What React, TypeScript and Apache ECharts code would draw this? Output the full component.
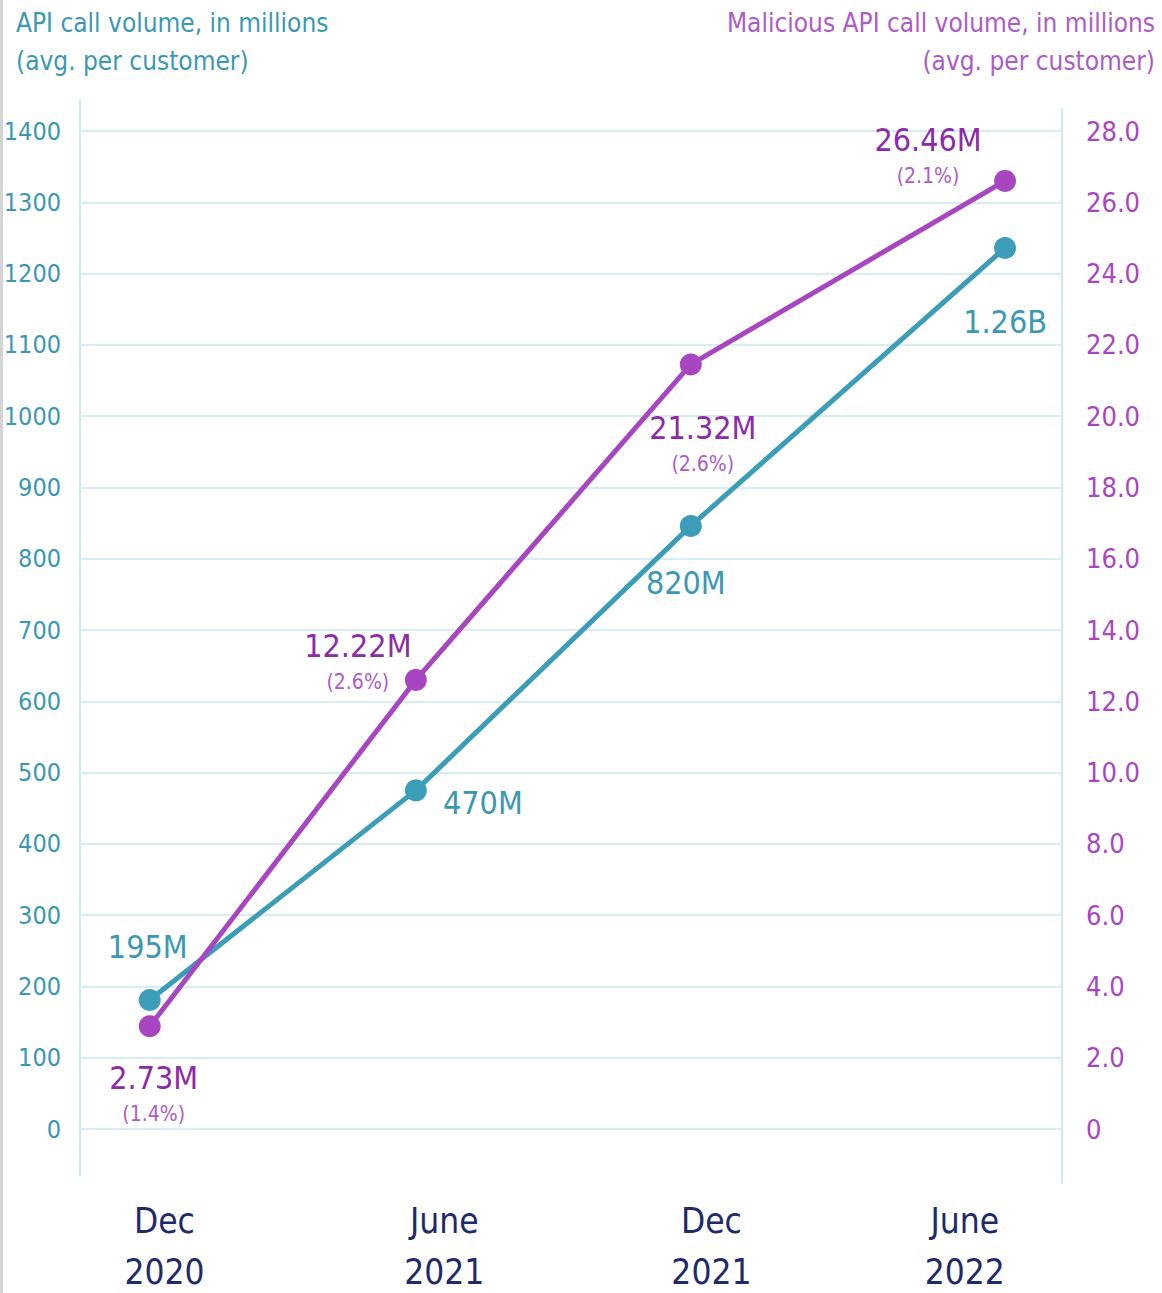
import React, { useEffect, useRef } from "react";
import * as echarts from "echarts";

const FONT = "'DejaVu Sans Condensed', 'Liberation Sans Narrow', 'Roboto', sans-serif";

// Timeline positions of the four snapshots (x-axis value space 0..100)
const pointX = [7.1, 34.2, 62.2, 94.2];
const categoryX = [8.6, 37.1, 64.3, 90.1];
const categories = ["Dec\n2020", "June\n2021", "Dec\n2021", "June\n2022"];

// API call volume, millions (avg per customer)
const apiVolume = [181, 475, 846, 1236];
const apiLabels = ["195M", "470M", "820M", "1.26B"];

// Malicious API call volume, millions (avg per customer)
const maliciousVolume = [2.88, 12.6, 21.45, 26.6];
const maliciousLabels = ["2.73M", "12.22M", "21.32M", "26.46M"];
const maliciousShare = ["(1.4%)", "(2.6%)", "(2.6%)", "(2.1%)"];

const leftTicks = { min: 0, max: 1400, interval: 100 };
const rightTicks = { min: 0, max: 28, interval: 2 };

const BLUE = "#3b9db8";
const BLUE_TEXT = "#3a98b4";
const PURPLE = "#a846c2";
const PURPLE_DARK = "#8c2aa8";
const PURPLE_LIGHT = "#ad5bc7";
const NAVY = "#1e2a6a";
const GRID = "#d6eef3";

const apiOffsets = [[-2, -53], [67, 13], [-5, 57], [0, 74]];
const malOffsets = [[4, 70], [-58, -16], [12, 82], [-77, -23]];

export default function App() {
  const ref = useRef<HTMLDivElement>(null);
  useEffect(() => {
    if (!ref.current) return;
    const chart = echarts.init(ref.current, undefined, { renderer: "svg" });
    const apiData = apiVolume.map((v, i) => ({
      value: [pointX[i], v],
      label: {
        show: true,
        position: "inside",
        offset: apiOffsets[i],
        formatter: apiLabels[i],
        color: BLUE_TEXT,
        fontSize: 32,
        fontFamily: FONT,
        fontWeight: "normal",
      },
    }));
    const malData = maliciousVolume.map((v, i) => ({
      value: [pointX[i], v],
      label: {
        show: true,
        position: "inside",
        offset: malOffsets[i],
        formatter: `{v|${maliciousLabels[i]}}\n{p|${maliciousShare[i]}}`,
        rich: {
          v: { color: PURPLE_DARK, fontSize: 32, lineHeight: 36, fontFamily: FONT, align: "center" },
          p: { color: PURPLE_LIGHT, fontSize: 21, lineHeight: 36, fontFamily: FONT, align: "center" },
        },
      },
    }));
    chart.setOption({
      animation: false,
      backgroundColor: "#ffffff",
      grid: { left: 80, right: 100, top: 131, bottom: 164, outerBoundsMode: "none", containLabel: false },
      xAxis: {
        type: "value",
        min: 0,
        max: 100,
        axisLine: { show: false },
        axisTick: { show: false },
        splitLine: { show: false },
        axisLabel: {
          customValues: categoryX,
          formatter: (val: number) => {
            const idx = categoryX.findIndex((c) => Math.abs(c - val) < 0.01);
            return idx >= 0 ? categories[idx] : "";
          },
          color: NAVY,
          fontSize: 35,
          lineHeight: 51,
          fontFamily: FONT,
          margin: 66,
        },
      },
      yAxis: [
        {
          type: "value",
          ...leftTicks,
          axisLine: { show: false },
          axisTick: { show: false },
          splitLine: { show: true, lineStyle: { color: GRID, width: 2 } },
          axisLabel: {
            color: BLUE_TEXT,
            fontSize: 25,
            fontFamily: FONT,
            margin: 19,
            formatter: (v: number) => String(v),
          },
        },
        {
          type: "value",
          ...rightTicks,
          axisLine: { show: false },
          axisTick: { show: false },
          splitLine: { show: false },
          axisLabel: {
            color: PURPLE,
            fontSize: 27,
            fontFamily: FONT,
            margin: 24,
            formatter: (v: number) => (v === 0 ? "0" : v.toFixed(1)),
          },
        },
      ],
      series: [
        {
          type: "line",
          yAxisIndex: 0,
          data: apiData,
          symbol: "circle",
          symbolSize: 22,
          lineStyle: { color: BLUE, width: 5 },
          itemStyle: { color: BLUE },
          z: 3,
        },
        {
          type: "line",
          yAxisIndex: 1,
          data: malData,
          symbol: "circle",
          symbolSize: 22,
          lineStyle: { color: PURPLE, width: 5 },
          itemStyle: { color: PURPLE },
          z: 4,
        },
      ],
      graphic: [
        { type: "rect", x: 0, y: 0, shape: { width: 3, height: 1293 }, style: { fill: "#d4d4d4" } },
        { type: "line", shape: { x1: 80, y1: 100, x2: 80, y2: 1176 }, style: { stroke: "#cde9ef", lineWidth: 2 } },
        { type: "line", shape: { x1: 1062, y1: 108, x2: 1062, y2: 1184 }, style: { stroke: "#cde9ef", lineWidth: 2 } },
        {
          type: "text",
          x: 16,
          y: 4,
          style: {
            text: "API call volume, in millions\n(avg. per customer)",
            fill: BLUE_TEXT,
            font: `26px ${FONT}`,
            lineHeight: 38,
            align: "left",
            verticalAlign: "top",
          },
        },
        {
          type: "text",
          x: 1155,
          y: 4,
          style: {
            text: "Malicious API call volume, in millions\n(avg. per customer)",
            fill: PURPLE_LIGHT,
            font: `26px ${FONT}`,
            lineHeight: 38,
            align: "right",
            verticalAlign: "top",
          },
        },
      ],
    });
    return () => chart.dispose();
  }, []);
  return (
    <div
      ref={ref}
      style={{ position: "fixed", left: 0, top: 0, width: 1162, height: 1293 }}
    />
  );
}
